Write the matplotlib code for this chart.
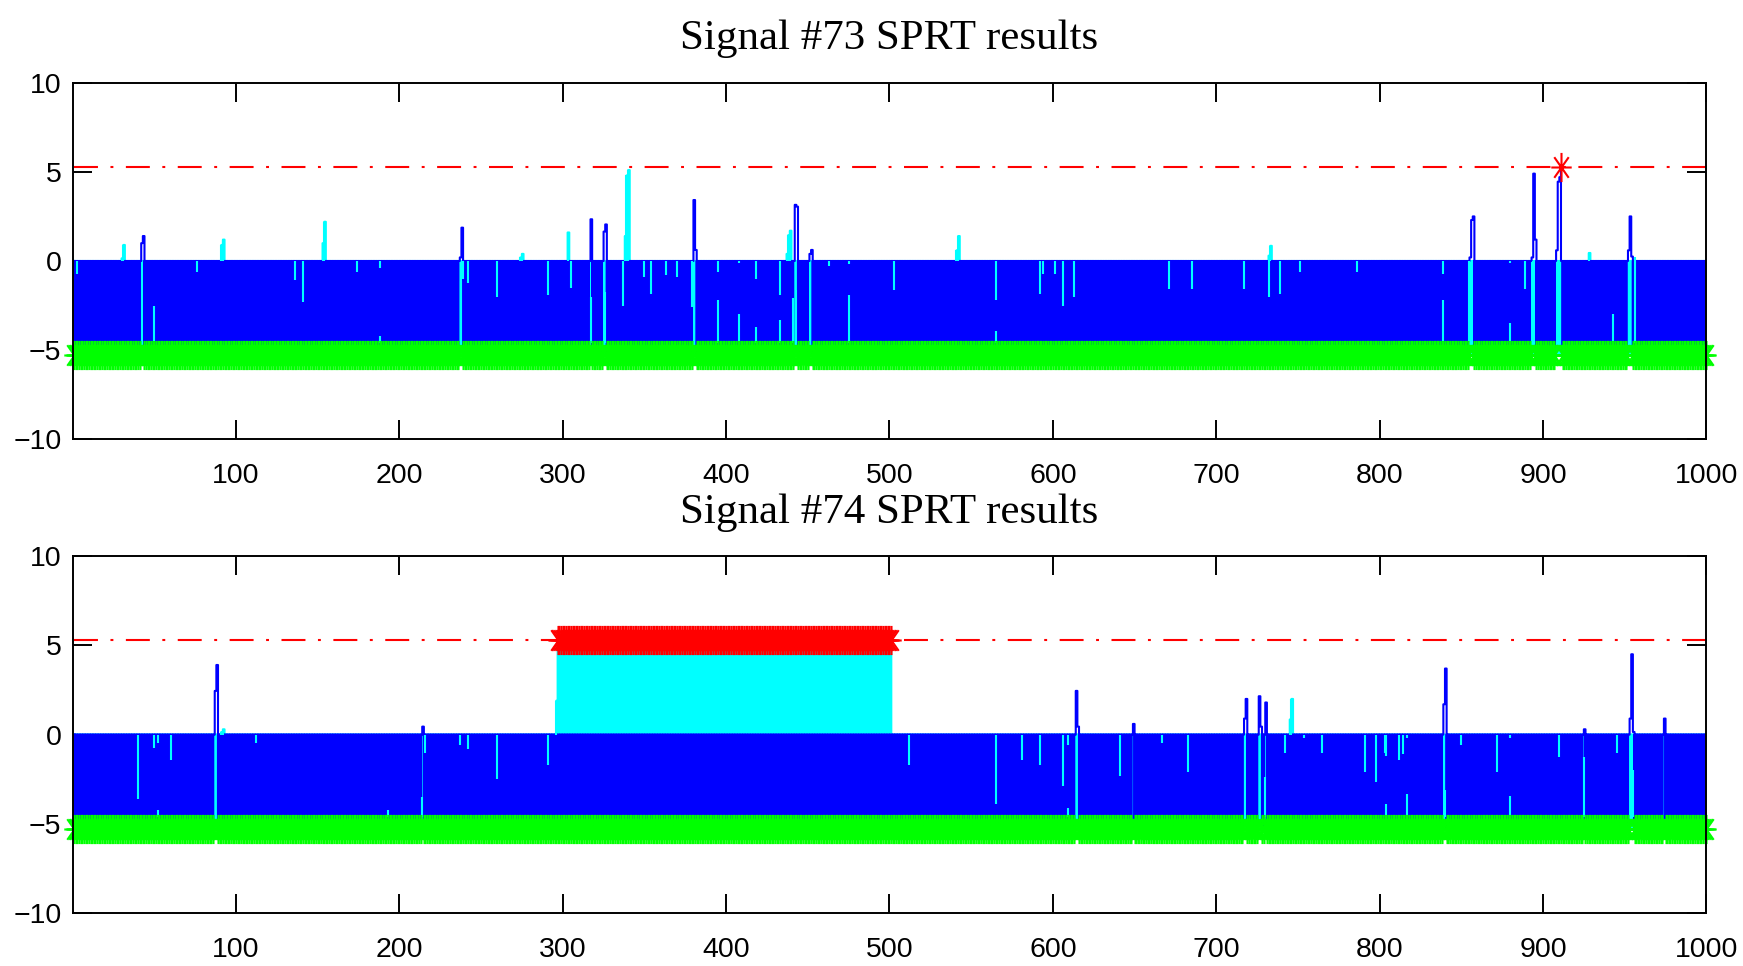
import matplotlib
matplotlib.use("Agg")
import matplotlib.pyplot as plt
from matplotlib.path import Path

# ---------------------------------------------------------------------------
# SPRT run settings
# ---------------------------------------------------------------------------
N_SAMPLES = 1000
UPPER = 5.29          # ln((1-beta)/alpha) decision boundary
LOWER = -5.29         # ln(beta/(1-alpha)) decision boundary

x_ticks = [100, 200, 300, 400, 500, 600, 700, 800, 900, 1000]
y_ticks = [-10, -5, 0, 5, 10]

# ---------------------------------------------------------------------------
# Signal #73
# Samples where the blue SPRT index did not hit the lower boundary
# (index value at that sample, no reset)
s73_title = "Signal #73 SPRT results"
s73_blue_open = {42: 1.0, 43: 1.4, 237: 0.2, 238: 1.87, 317: 2.34,
                 325: 1.65, 326: 2.05, 380: 3.42, 381: 0.62, 442: 3.15,
                 443: 3.05, 451: 0.4, 452: 0.62, 855: 0.2, 856: 2.3,
                 857: 2.5, 893: 0.2, 894: 4.9, 895: 1.2, 908: 0.6,
                 909: 4.45, 910: 4.7, 952: 0.6, 953: 2.5, 954: 0.25}
s73_blue_upper = [911]
# Positive excursions of the cyan index
s73_cyan_open = {30: 0.15, 31: 0.9, 91: 0.9, 92: 1.2, 153: 1.0, 154: 2.2,
                 274: 0.2, 275: 0.4, 303: 1.6, 338: 1.4, 339: 4.8, 340: 5.1,
                 437: 0.4, 438: 1.45, 439: 1.7, 541: 0.6, 542: 1.4,
                 732: 0.3, 733: 0.85, 928: 0.45}
s73_cyan_upper = []
# Cyan index moves inside the negative region: (sample, from, to)
s73_cyan_steps = [
    (3, 0, -0.73), (50, -2.5, -4.6), (76, 0, -0.6), (136, 0, -1.07),
    (141, 0, -2.3), (174, 0, -0.6), (188, 0, -0.4), (188, -4.2, -4.6),
    (238, -1.1, -4.6), (239, 0, -1.0), (242, 0, -1.25), (260, 0, -2.0),
    (291, 0, -1.9), (305, 0, -1.5), (317, -2.0, -4.6), (326, -1.75, -4.6),
    (337, 0, -2.5), (350, 0, -0.9), (354, 0, -1.85), (363, 0, -0.8),
    (370, 0, -0.9), (379, 0, -2.6), (395, 0, -0.6), (395, -2.2, -4.6),
    (408, 0, -0.1), (408, -3.0, -4.6), (418, 0, -1.0), (418, -3.7, -4.6),
    (433, 0, -1.9), (433, -3.3, -4.6), (441, -2.1, -4.6), (443, -1.6, -4.6),
    (463, 0, -0.3), (475, 0, -0.15), (475, -1.9, -4.6), (503, 0, -1.6),
    (565, 0, -2.2), (565, -3.9, -4.6), (592, 0, -1.85), (594, 0, -0.73),
    (601, 0, -0.73), (606, 0, -2.5), (613, 0, -2.0), (671, 0, -1.55),
    (685, 0, -1.55), (717, 0, -1.55), (732, 0, -2.0), (739, 0, -1.85),
    (751, 0, -0.6), (786, 0, -0.6), (839, 0, -0.75), (839, -2.2, -4.6),
    (855, 0, -4.6), (880, 0, -0.1), (880, -3.5, -4.6), (889, 0, -1.55),
    (894, 0, -4.6), (909, 0, -4.6), (943, -3.0, -4.6), (953, -2.2, -4.6),
    (956, 0.2, -4.6),
]

# ---------------------------------------------------------------------------
# Signal #74
s74_title = "Signal #74 SPRT results"
s74_blue_open = {87: 2.45, 88: 3.9, 214: 0.45, 614: 2.45, 615: 0.45,
                 649: 0.6, 717: 0.9, 718: 2.0, 726: 2.15, 727: 0.45,
                 730: 1.8, 839: 1.7, 840: 3.7, 925: 0.3, 953: 0.9,
                 954: 4.5, 955: 0.15, 974: 0.9}
s74_blue_upper = []
s74_cyan_open = {91: 0.15, 92: 0.3, 296: 1.9, 745: 0.85, 746: 2.0}
s74_cyan_upper = list(range(297, 502))   # fault declared on every sample
s74_cyan_steps = [
    (40, 0, -3.6), (50, 0, -0.73), (52, 0, -0.45), (52, -4.2, -4.6),
    (60, 0, -1.4), (112, 0, -0.45), (193, -4.2, -4.6), (214, -3.5, -4.6),
    (216, 0, -1.0), (237, 0, -0.6), (242, 0, -0.8), (260, 0, -2.5),
    (291, 0, -1.7), (512, 0, -1.7), (565, 0, -3.9), (581, 0, -1.4),
    (592, 0, -1.7), (606, 0, -2.9), (609, 0, -0.6), (609, -4.1, -4.6),
    (641, 0, -2.3), (667, 0, -0.45), (683, 0, -2.1), (730, -2.35, -4.6),
    (742, 0, -1.0), (754, 0, -0.2), (765, 0, -1.0), (791, 0, -2.1),
    (798, 0, -2.65), (803, 0, -1.0), (804, 0, -1.2), (804, -3.9, -4.6),
    (812, 0, -1.4), (814, 0, -1.1), (817, 0, -0.2), (817, -3.3, -4.6),
    (840, -3.1, -4.6), (850, 0, -0.6), (872, 0, -2.1), (880, 0, -0.2),
    (880, -3.45, -4.6), (910, 0, -1.25), (925, -1.25, -4.6), (945, 0, -1.0),
    (954, -1.4, -4.6), (955, -2.0, -4.6),
]

# ---------------------------------------------------------------------------
BLUE, CYAN, GREEN, RED = "#0000ff", "#00ffff", "#00ff00", "#ff0000"
TICK_FONT = ["Liberation Sans", "DejaVu Sans"]
TITLE_FONT = ["Liberation Serif", "DejaVu Serif"]
LW = 1.5

# MATLAB style '*' asterisk marker (plus and cross)
_k = 0.70
_d = 0.7071
asterisk = Path(
    [(0, -1), (0, 1), (-_k, 0), (_k, 0),
     (-_k * _d, -_d), (_k * _d, _d), (-_k * _d, _d), (_k * _d, -_d)],
    [Path.MOVETO, Path.LINETO] * 4,
)


def sprt_trace(open_vals, upper_hits):
    """Index path: vertical move at each sample, reset to 0 after a decision."""
    xs, ys, lower_x, upper_x = [], [], [], []
    level = 0.0
    for n in range(1, N_SAMPLES + 1):
        xs.append(n)
        ys.append(level)
        if n in upper_hits:
            xs += [n, n]
            ys += [UPPER, 0.0]
            upper_x.append(n)
            level = 0.0
        elif n in open_vals:
            level = open_vals[n]
            xs.append(n)
            ys.append(level)
        else:
            xs += [n, n]
            ys += [LOWER, 0.0]
            lower_x.append(n)
            level = 0.0
    return xs, ys, lower_x, upper_x


def draw_panel(ax, blue_open, blue_upper, cyan_open, cyan_upper, cyan_steps):
    dash_dot = (0, (11.5, 6.0, 1.4, 6.0))
    ax.plot([1, N_SAMPLES], [LOWER, LOWER], color=RED, lw=LW, ls=dash_dot)
    ax.plot([1, N_SAMPLES], [UPPER, UPPER], color=RED, lw=LW, ls=dash_dot)

    # cyan index (underneath), blue index on top
    cx, cy, c_lower, c_upper = sprt_trace(cyan_open, cyan_upper)
    ax.plot(cx, cy, color=CYAN, lw=LW)
    bx, by, b_lower, b_upper = sprt_trace(blue_open, blue_upper)
    ax.plot(bx, by, color=BLUE, lw=LW)

    ax.vlines([s[0] for s in cyan_steps], [s[1] for s in cyan_steps],
              [s[2] for s in cyan_steps], color=CYAN, lw=LW)
    ax.vlines(list(cyan_open.keys()), 0, list(cyan_open.values()),
              color=CYAN, lw=LW)

    ax.plot(b_lower, [LOWER] * len(b_lower), ls="none", marker=asterisk,
            ms=21, mew=1.5, color=GREEN, clip_on=False)
    hits = sorted(set(b_upper) | set(c_upper))
    if hits:
        ax.plot(hits, [UPPER] * len(hits), ls="none", marker=asterisk,
                ms=21, mew=1.5, color=RED, clip_on=False)

    ax.set_xlim(0, N_SAMPLES)
    ax.set_ylim(-10, 10)
    ax.set_xticks(x_ticks)
    ax.set_yticks(y_ticks)
    ax.tick_params(direction="in", length=13.5, width=1.4, top=True,
                   right=True, labelsize=20.5)
    ax.tick_params(axis="x", pad=17)
    ax.tick_params(axis="y", pad=8)
    for lab in ax.get_xticklabels() + ax.get_yticklabels():
        lab.set_family(TICK_FONT)
    for sp in ax.spines.values():
        sp.set_linewidth(1.4)


fig = plt.figure(figsize=(17.43, 9.66), dpi=100)
ax_top = fig.add_axes([0.04165, 0.54524, 0.93735, 0.36915])
ax_bot = fig.add_axes([0.04165, 0.05455, 0.93735, 0.36988])

draw_panel(ax_top, s73_blue_open, s73_blue_upper, s73_cyan_open,
           s73_cyan_upper, s73_cyan_steps)
draw_panel(ax_bot, s74_blue_open, s74_blue_upper, s74_cyan_open,
           s74_cyan_upper, s74_cyan_steps)

fig.text(0.5103, 0.9493, s73_title, ha="center", va="baseline",
         family=TITLE_FONT, fontsize=31)
fig.text(0.5103, 0.4581, s74_title, ha="center", va="baseline",
         family=TITLE_FONT, fontsize=31)

fig.savefig("out.png", dpi=100)
